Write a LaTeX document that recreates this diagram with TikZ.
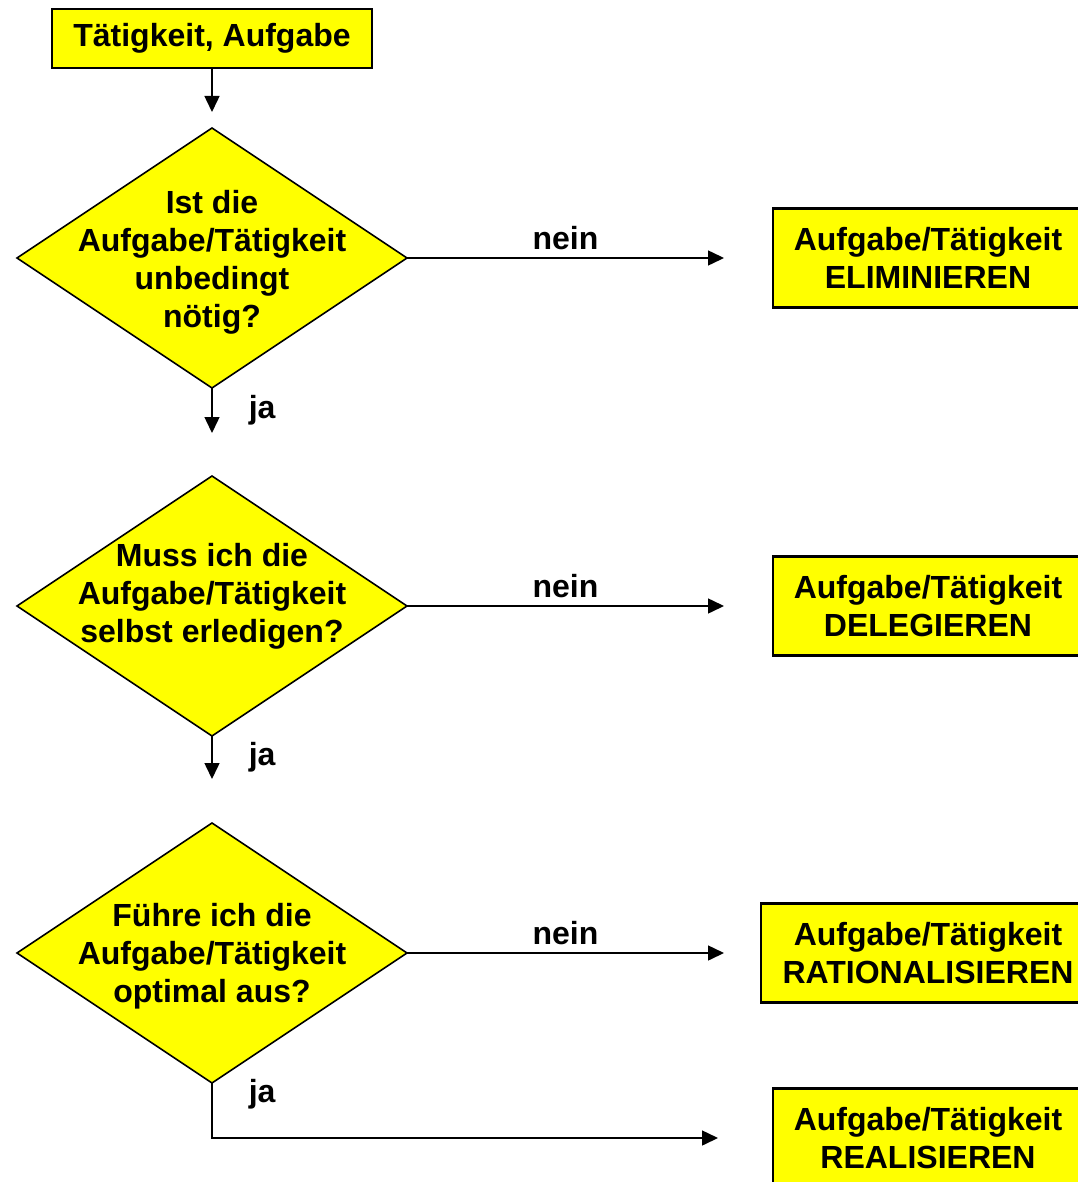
\documentclass[tikz,border=0pt]{standalone}
\usepackage{fontspec}
\setmainfont{Liberation Sans}
\usetikzlibrary{positioning, shapes.geometric, arrows.meta}
\definecolor{fcyellow}{HTML}{FFFF00}

\begin{document}
\begin{tikzpicture}[
  x=0.5pt, y=-0.5pt,
  font=\fontsize{16}{19}\selectfont\bfseries,
  box/.style={draw=black, line width=1.3pt, fill=fcyellow, align=center, minimum height=49.5pt, inner sep=0pt, outer sep=0pt},
  decision/.style={diamond, draw=black, line width=0.8pt, fill=fcyellow, minimum width=195pt, minimum height=130pt, inner sep=0pt, outer sep=0pt},
  qtext/.style={align=center, inner sep=0pt},
  lbl/.style={inner sep=2pt},
  arr/.style={-{Triangle[length=8pt, width=7.5pt]}, line width=0.75pt}
]
  \useasboundingbox (0,0) rectangle (1077,1182);

  \node[box, minimum width=160pt, minimum height=29.5pt] (start) at (212,38.5) {Tätigkeit, Aufgabe};
  \node[decision, below=30pt of start, label={[qtext, yshift=-2pt]center:Ist die\\Aufgabe/Tätigkeit\\unbedingt\\nötig?}] (q1) {};
  \node[decision, below=44pt of q1, label={[qtext, yshift=5pt]center:Muss ich die\\Aufgabe/Tätigkeit\\selbst erledigen?}] (q2) {};
  \node[decision, below=43.5pt of q2, label={[qtext, yshift=-1.5pt]center:Führe ich die\\Aufgabe/Tätigkeit\\optimal aus?}] (q3) {};

  \node[box, minimum width=155pt, right=183pt of q1] (elim) {Aufgabe/Tätigkeit\\ELIMINIEREN};
  \node[box, minimum width=155pt, right=183pt of q2] (deleg) {Aufgabe/Tätigkeit\\DELEGIEREN};
  \node[box, minimum width=167pt, right=177pt of q3] (ratio) {Aufgabe/Tätigkeit\\RATIONALISIEREN};
  \node[box, minimum width=155pt, below=43pt of ratio] (real) {Aufgabe/Tätigkeit\\REALISIEREN};

  \coordinate[below=22pt of start] (s1);
  \coordinate[below=22.5pt of q1] (j1);
  \coordinate[below=21.5pt of q2] (j2);
  \coordinate[left=24.5pt of elim] (n1);
  \coordinate[left=24.5pt of deleg] (n2);
  \coordinate[left=18.5pt of ratio] (n3);
  \coordinate[left=27.5pt of real] (r1);

  \draw[arr] (start) -- (s1);
  \draw[arr] (q1.south) -- (j1) node[lbl, midway, right=16pt] (ja1) {ja};
  \draw[arr] (q2.south) -- (j2) node[lbl, midway, right=16pt] (ja2) {ja};
  \draw[arr] (q3.south) |- (r1) node[lbl, pos=0.1, right=16pt] (ja3) {ja};
  \draw[arr] (q1.east) -- (n1) node[lbl, midway, above=1.5pt] (nein1) {nein};
  \draw[arr] (q2.east) -- (n2) node[lbl, midway, above=1.5pt] (nein2) {nein};
  \draw[arr] (q3.east) -- (n3) node[lbl, midway, above=1.5pt] (nein3) {nein};
\end{tikzpicture}
\end{document}
